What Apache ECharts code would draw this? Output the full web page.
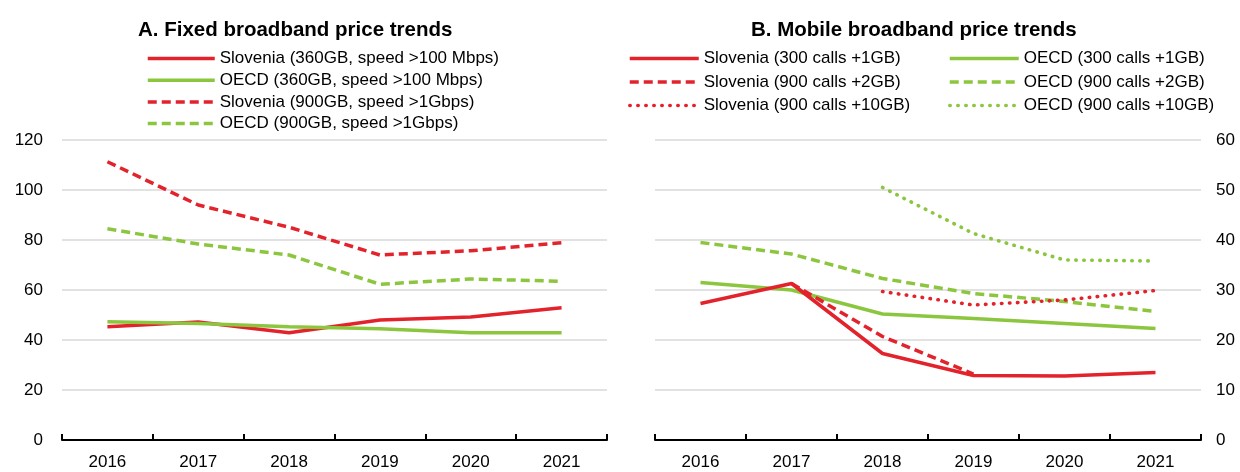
<!DOCTYPE html>
<html>
<head>
<meta charset="utf-8">
<script src="https://cdn.jsdelivr.net/npm/echarts@6/dist/echarts.min.js"></script>
<style>
html,body{margin:0;padding:0;background:#fff;}
#chart{width:1240px;height:472px;}
</style>
</head>
<body>
<div id="chart"></div>
<script>
// ---- data ----
const years = ['2016', '2017', '2018', '2019', '2020', '2021'];

// Panel A: fixed broadband
const sloFixed360 = [45.3, 47.2, 42.9, 48.0, 49.2, 52.9];
const oecdFixed360 = [47.3, 46.6, 45.3, 44.5, 42.9, 42.9];
const sloFixed900 = [111.3, 94.0, 85.1, 74.0, 75.7, 78.9];
const oecdFixed900 = [84.5, 78.4, 74.0, 62.3, 64.4, 63.5];

// Panel B: mobile broadband
const sloMob300 = [27.3, 31.3, 17.3, 12.9, 12.8, 13.5];
const sloMob900_2 = [null, 31.3, 20.7, 13.2, null, null];
const sloMob900_10 = [null, null, 29.7, 27.0, 28.0, 29.9];
const oecdMob300 = [31.5, 30.0, 25.2, 24.3, 23.3, 22.3];
const oecdMob900_2 = [39.5, 37.2, 32.3, 29.3, 27.7, 25.7];
const oecdMob900_10 = [null, null, 50.5, 41.3, 36.0, 35.8];

const leftTicks = [0, 20, 40, 60, 80, 100, 120];
const rightTicks = [0, 10, 20, 30, 40, 50, 60];

// ---- styling ----
const RED = '#e3232b';
const GREEN = '#8cc63f';
const FONT = "'Liberation Sans', Arial, sans-serif";
const DASH = [9, 5];
const DOT = [0.5, 7.5];

function line(name, data, color, type, xi) {
  const dotted = (type === DOT);
  return {
    name: name, type: 'line', data: data,
    xAxisIndex: xi, yAxisIndex: xi,
    symbol: 'none', showSymbol: false, smooth: false, connectNulls: false,
    lineStyle: { color: color, width: dotted ? 3.6 : 3.5, type: type, cap: dotted ? 'round' : 'butt' },
    itemStyle: { color: color },
    emphasis: { disabled: true },
    animation: false
  };
}

const xAxisCommon = {
  type: 'category', data: years, boundaryGap: true,
  axisLine: { show: true, lineStyle: { color: '#000', width: 2 } },
  axisTick: { show: true, inside: true, length: 6, lineStyle: { color: '#000', width: 2 } },
  axisLabel: { color: '#000', fontSize: 17, fontFamily: FONT, margin: 14 },
  splitLine: { show: false }
};

const legendCommon = {
  orient: 'vertical', itemWidth: 67, itemHeight: 14,
  textStyle: { fontSize: 17, fontFamily: FONT, color: '#000', lineHeight: 17 },
  itemStyle: { opacity: 0, borderWidth: 0 },
  lineStyle: { width: 3.5 },
  selectedMode: false, padding: 0
};

const option = {
  animation: false,
  backgroundColor: '#fff',
  title: [
    { text: 'A. Fixed broadband price trends', left: 133, top: 15,
      textStyle: { fontSize: 20.5, fontWeight: 'bold', fontFamily: FONT, color: '#000' } },
    { text: 'B. Mobile broadband price trends', left: 746, top: 15,
      textStyle: { fontSize: 20.5, fontWeight: 'bold', fontFamily: FONT, color: '#000' } }
  ],
  legend: [
    Object.assign({}, legendCommon, {
      left: 146, top: 50, itemGap: 4.7,
      data: ['Slovenia (360GB, speed >100 Mbps)', 'OECD (360GB, speed >100 Mbps)',
             'Slovenia (900GB, speed >1Gbps)', 'OECD (900GB, speed >1Gbps)']
    }),
    Object.assign({}, legendCommon, {
      left: 628, top: 50, itemGap: 6.5, itemWidth: 69,
      data: ['Slovenia (300 calls +1GB)', 'Slovenia (900 calls +2GB)', 'Slovenia (900 calls +10GB)']
    }),
    Object.assign({}, legendCommon, {
      left: 948, top: 50, itemGap: 6.5, itemWidth: 69,
      data: ['OECD (300 calls +1GB)', 'OECD (900 calls +2GB)', 'OECD (900 calls +10GB)']
    })
  ],
  grid: [
    { left: 62, top: 140, width: 545, height: 300, containLabel: false },
    { left: 655, top: 140, width: 546, height: 300, containLabel: false }
  ],
  xAxis: [
    Object.assign({}, xAxisCommon, { gridIndex: 0 }),
    Object.assign({}, xAxisCommon, { gridIndex: 1 })
  ],
  yAxis: [
    { type: 'value', gridIndex: 0, position: 'left',
      min: leftTicks[0], max: leftTicks[leftTicks.length - 1], interval: leftTicks[1] - leftTicks[0],
      axisLine: { show: false }, axisTick: { show: false },
      axisLabel: { color: '#000', fontSize: 17, fontFamily: FONT, margin: 19 },
      splitLine: { show: true, lineStyle: { color: '#d9d9d9', width: 1.5 } } },
    { type: 'value', gridIndex: 1, position: 'right',
      min: rightTicks[0], max: rightTicks[rightTicks.length - 1], interval: rightTicks[1] - rightTicks[0],
      axisLine: { show: false }, axisTick: { show: false },
      axisLabel: { color: '#000', fontSize: 17, fontFamily: FONT, margin: 15 },
      splitLine: { show: true, lineStyle: { color: '#d9d9d9', width: 1.5 } } }
  ],
  series: [
    line('Slovenia (360GB, speed >100 Mbps)', sloFixed360, RED, 'solid', 0),
    line('OECD (360GB, speed >100 Mbps)', oecdFixed360, GREEN, 'solid', 0),
    line('Slovenia (900GB, speed >1Gbps)', sloFixed900, RED, DASH, 0),
    line('OECD (900GB, speed >1Gbps)', oecdFixed900, GREEN, DASH, 0),

    line('OECD (300 calls +1GB)', oecdMob300, GREEN, 'solid', 1),
    line('OECD (900 calls +2GB)', oecdMob900_2, GREEN, DASH, 1),
    line('OECD (900 calls +10GB)', oecdMob900_10, GREEN, DOT, 1),
    line('Slovenia (300 calls +1GB)', sloMob300, RED, 'solid', 1),
    line('Slovenia (900 calls +2GB)', sloMob900_2, RED, DASH, 1),
    line('Slovenia (900 calls +10GB)', sloMob900_10, RED, DOT, 1)
  ]
};

const chart = echarts.init(document.getElementById('chart'), null, { renderer: 'canvas' });
chart.setOption(option);
</script>
</body>
</html>
